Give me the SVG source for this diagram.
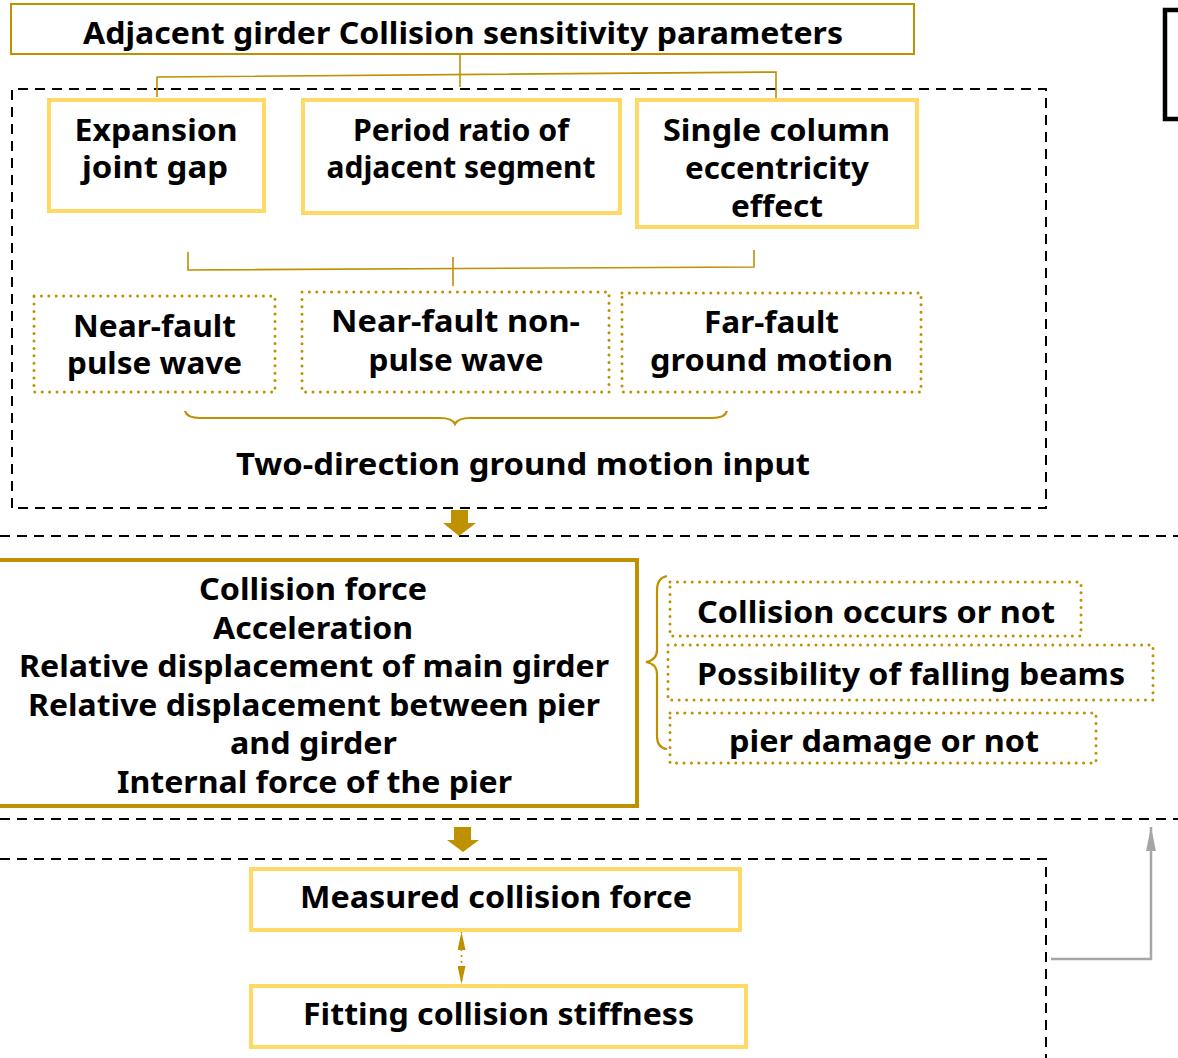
<svg xmlns="http://www.w3.org/2000/svg" width="1178" height="1058" viewBox="0 0 1178 1058">
<style>
text{font-family:"Noto Sans","Open Sans",sans-serif;font-weight:700;font-size:31px;fill:#000;text-anchor:middle}
.dk{fill:none;stroke:#BF9000;stroke-width:2}
.dk4{fill:#fff;stroke:#BF9000;stroke-width:4}
.lt{fill:#fff;stroke:#FFD966;stroke-width:4}
.dot{fill:none;stroke:#BF9000;stroke-width:3;stroke-dasharray:0 7.4;stroke-linecap:round}
.dash{fill:none;stroke:#000;stroke-width:2;stroke-dasharray:10 7}
.tree{fill:none;stroke:#BF9000;stroke-width:1.6}
.brace{fill:none;stroke:#BF9000;stroke-width:2.2}
.blk{fill:#BF9000}
</style>
<defs>
<marker id="tri" markerUnits="userSpaceOnUse" viewBox="0 0 18 8" markerWidth="18" markerHeight="8" refX="18" refY="4" orient="auto-start-reverse">
<path d="M0,0 L18,4 L0,8 Z" fill="#BF9000"/>
</marker>
<marker id="gtri" markerUnits="userSpaceOnUse" viewBox="0 0 24 10" markerWidth="24" markerHeight="10" refX="24" refY="5" orient="auto">
<path d="M0,0 L24,5 L0,10 Z" fill="#A6A6A6"/>
</marker>
</defs>
<rect width="1178" height="1058" fill="#fff"/>

<g id="frames">
<path class="dash" d="M12,508 L12,89 L1046,89 L1046,508 L12,508"/>
<path class="dash" d="M0,536 L1178,536"/>
<path class="dash" d="M0,819 L1178,819"/>
<path class="dash" d="M0,859 L1046,859 L1046,1058"/>
<path d="M1178,10 L1165,10 L1165,119 L1178,119" fill="none" stroke="#000" stroke-width="4.5"/>
</g>

<g id="connectors">
<path class="tree" d="M460,54 L460,87"/>
<path class="tree" d="M157,97 L157,77 L776,72 L776,99"/>
<path class="tree" d="M188,252 L188,270 L754,267 L754,250"/>
<path class="tree" d="M453,257 L453,286"/>
<path class="brace" d="M185,411 Q187,418 200,418 L440,418 Q452,418 455,424 Q458,418 470,418 L712,418 Q725,418 727,411"/>
<path class="brace" d="M667,576 Q657,578 657,590 L657,650 Q657,660 646,662 Q657,664 657,674 L657,736 Q657,748 667,749"/>
<polygon class="blk" points="451,510 468,510 468,523 476,523 459,536 443,523 451,523"/>
<polygon class="blk" points="454,827 471,827 471,840 479,840 463,852 447,840 454,840"/>
<line x1="461.5" y1="932" x2="461.5" y2="984" stroke="#BF9000" stroke-width="2" stroke-dasharray="0 6" stroke-linecap="round" marker-start="url(#tri)" marker-end="url(#tri)"/>
<path d="M1051,959 L1151,959 L1151,827" fill="none" stroke="#A6A6A6" stroke-width="2.5" marker-end="url(#gtri)"/>
</g>

<g id="title">
<rect class="dk" x="11" y="4" width="903" height="50"/>
<text x="463" y="44" textLength="760" lengthAdjust="spacingAndGlyphs">Adjacent girder Collision sensitivity parameters</text>
</g>

<g id="expansion">
<rect class="lt" x="49" y="100" width="215" height="111"/>
<text x="156" y="141" textLength="163" lengthAdjust="spacingAndGlyphs">Expansion</text>
<text x="155" y="178" textLength="146" lengthAdjust="spacingAndGlyphs">joint gap</text>
</g>

<g id="period">
<rect class="lt" x="303" y="100" width="317" height="113"/>
<text x="461" y="141" textLength="216" lengthAdjust="spacingAndGlyphs">Period ratio of</text>
<text x="461" y="178" textLength="269" lengthAdjust="spacingAndGlyphs">adjacent segment</text>
</g>

<g id="single">
<rect class="lt" x="637" y="100" width="280" height="127"/>
<text x="776.5" y="141" textLength="227" lengthAdjust="spacingAndGlyphs">Single column</text>
<text x="777" y="179" textLength="184" lengthAdjust="spacingAndGlyphs">eccentricity</text>
<text x="777" y="217" textLength="92" lengthAdjust="spacingAndGlyphs">effect</text>
</g>

<g id="nearpulse">
<rect class="dot" x="34" y="296" width="241" height="96"/>
<text x="154.5" y="337" textLength="163" lengthAdjust="spacingAndGlyphs">Near-fault</text>
<text x="154.5" y="374" textLength="175" lengthAdjust="spacingAndGlyphs">pulse wave</text>
</g>

<g id="nearnonpulse">
<rect class="dot" x="302" y="292" width="307" height="100"/>
<text x="455.5" y="332" textLength="249" lengthAdjust="spacingAndGlyphs">Near-fault non-</text>
<text x="456" y="371" textLength="175" lengthAdjust="spacingAndGlyphs">pulse wave</text>
</g>

<g id="farfault">
<rect class="dot" x="622" y="293" width="299" height="99"/>
<text x="771.5" y="333" textLength="135" lengthAdjust="spacingAndGlyphs">Far-fault</text>
<text x="771.5" y="371" textLength="243" lengthAdjust="spacingAndGlyphs">ground motion</text>
</g>

<g id="twodir">
<text x="523" y="475" textLength="574" lengthAdjust="spacingAndGlyphs">Two-direction ground motion input</text>
</g>

<g id="results">
<rect class="dk4" x="-6" y="560" width="643" height="246"/>
<text x="313" y="600" textLength="228" lengthAdjust="spacingAndGlyphs">Collision force</text>
<text x="313" y="638.5" textLength="200" lengthAdjust="spacingAndGlyphs">Acceleration</text>
<text x="314" y="677" textLength="590" lengthAdjust="spacingAndGlyphs">Relative displacement of main girder</text>
<text x="314" y="715.5" textLength="572" lengthAdjust="spacingAndGlyphs">Relative displacement between pier</text>
<text x="313.5" y="754" textLength="167" lengthAdjust="spacingAndGlyphs">and girder</text>
<text x="314.5" y="792.5" textLength="395" lengthAdjust="spacingAndGlyphs">Internal force of the pier</text>
</g>

<g id="occurs">
<rect class="dot" x="670" y="582" width="411" height="54"/>
<text x="876" y="623" textLength="358" lengthAdjust="spacingAndGlyphs">Collision occurs or not</text>
</g>

<g id="falling">
<rect class="dot" x="668" y="645" width="485" height="55"/>
<text x="911" y="685" textLength="428" lengthAdjust="spacingAndGlyphs">Possibility of falling beams</text>
</g>

<g id="damage">
<rect class="dot" x="670" y="713" width="426" height="50"/>
<text x="884" y="752" textLength="310" lengthAdjust="spacingAndGlyphs">pier damage or not</text>
</g>

<g id="measured">
<rect class="lt" x="251" y="869" width="489" height="61"/>
<text x="496" y="908" textLength="392" lengthAdjust="spacingAndGlyphs">Measured collision force</text>
</g>

<g id="fitting">
<rect class="lt" x="251" y="986" width="495" height="61"/>
<text x="498.5" y="1025" textLength="391" lengthAdjust="spacingAndGlyphs">Fitting collision stiffness</text>
</g>
</svg>
